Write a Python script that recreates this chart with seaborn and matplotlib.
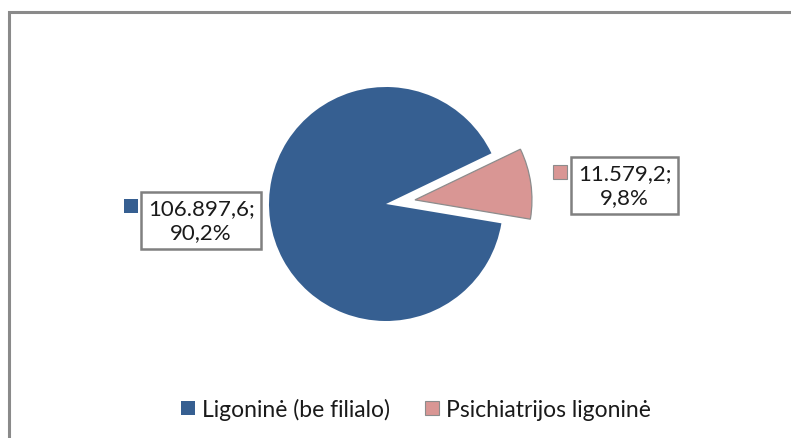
import matplotlib.pyplot as plt
from matplotlib.patches import Patch, Rectangle
import seaborn as sns

# duomenys
categories = ['Ligoninė (be filialo)', 'Psichiatrijos ligoninė']
values = [106897.6, 11579.2]
value_labels = ['106.897,6;', '11.579,2;']
pct_labels = ['90,2%', '9,8%']
colors = ['#365F91', '#D99694']

sns.set_theme(style="white")
plt.rcParams['font.family'] = ['Lato', 'DejaVu Sans']

fig = plt.figure(figsize=(7.91, 4.39), dpi=100)
ax = fig.add_axes([0, 0, 1, 1])

# 1 vienetas = pyrago spindulys (~117 px), centras ties (386, 205)
r_px = 117.0
cx, cy = 386.0, 439 - 205.0

wedges, _ = ax.pie(values, colors=colors, startangle=-9.5, counterclock=False,
                   explode=[0, 0.25], radius=1, frame=True,
                   wedgeprops=dict(linewidth=0))
wedges[1].set_edgecolor('#8c8c8c')
wedges[1].set_linewidth(0.9)
ax.set_xlim(-cx / r_px, (791 - cx) / r_px)
ax.set_ylim(-cy / r_px, (439 - cy) / r_px)
ax.set_aspect('equal')
ax.axis('off')

# etiketės su rėmeliais
lab_pos = [(-1.58, -0.14), (2.04, 0.16)]
sq_pos = [(-2.18, -0.02), (1.49, 0.27)]
for i in range(len(values)):
    ax.text(lab_pos[i][0], lab_pos[i][1], value_labels[i] + '\n' + pct_labels[i],
            ha='center', va='center', fontsize=16, color='#1a1a1a',
            linespacing=1.25,
            bbox=dict(boxstyle='square,pad=0.3', fc='white', ec='#808080', lw=1.8))
    ax.add_patch(Rectangle((sq_pos[i][0] - 0.06, sq_pos[i][1] - 0.06), 0.12, 0.12,
                           fc=colors[i], ec='#8c8c8c' if i == 1 else 'none', lw=0.8))

# legenda
handles = [Patch(fc=colors[0], ec='none'), Patch(fc=colors[1], ec='#8c8c8c', lw=0.8)]
fig.legend(handles, categories, loc='center', bbox_to_anchor=(416 / 791, 29 / 439),
           ncol=2, frameon=False, fontsize=16.5, handlelength=0.62, handleheight=0.62,
           handletextpad=0.3, columnspacing=1.5, labelcolor='#1a1a1a')

# diagramos rėmelis (matosi tik kairė ir viršus)
fig.add_artist(Rectangle((9 / 791, -0.1), 2, (439 - 13) / 439 + 0.1,
                         transform=fig.transFigure, fill=False, ec='#8a8a8a', lw=2.2))

fig.savefig('out.png', dpi=100)
